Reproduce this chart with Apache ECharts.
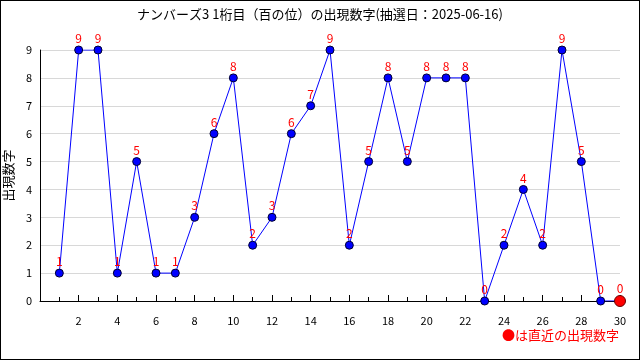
<!DOCTYPE html>
<html><head><meta charset="utf-8">
<script src="https://cdn.jsdelivr.net/npm/echarts@6/dist/echarts.min.js"></script>
<style>html,body{margin:0;padding:0;background:#fff}#c{width:638px;height:358px;border:1px solid #000}</style>
</head><body><div id="c"></div>
<script>
var draws = [1,2,3,4,5,6,7,8,9,10,11,12,13,14,15,16,17,18,19,20,21,22,23,24,25,26,27,28,29,30];
var digits = [1,9,9,1,5,1,1,3,6,8,2,3,6,7,9,2,5,8,5,8,8,8,0,2,4,2,9,5,0,0];
var titleText = 'ナンバーズ3 1桁目（百の位）の出現数字(抽選日：2025-06-16)';
var yName = '出現数字';
var noteText = '●は直近の出現数字';
var font = '"Noto Sans CJK JP", "DejaVu Sans", sans-serif';

var data = draws.map(function(d, i){
  var item = {value: [d, digits[i]]};
  if (i === draws.length - 1) {
    item.symbolSize = 11;
    item.itemStyle = {color: '#ff0000', borderColor: '#660000', borderWidth: 1};
  }
  return item;
});

var chart = echarts.init(document.getElementById('c'));
chart.setOption({
  animation: false,
  backgroundColor: '#fff',
  title: {text: titleText, left: 'center', top: 2,
    textStyle: {fontSize: 13, fontWeight: 'normal', color: '#000', fontFamily: font}},
  grid: {left: 39, right: 19, top: 49, bottom: 58, containLabel: false, outerBoundsMode: 'none'},
  xAxis: {type: 'value', min: 0, max: 30, interval: 2,
    axisLine: {lineStyle: {color: '#000'}},
    axisTick: {show: true, inside: true, length: 6, lineStyle: {color: '#000'}},
    minorTick: {show: true, splitNumber: 2, length: 4, lineStyle: {color: '#000'}},
    splitLine: {show: false},
    axisLabel: {color: '#000', fontSize: 11, margin: 14, fontFamily: font,
      formatter: function(v){ return v === 0 ? '' : String(v); }}
  },
  yAxis: {type: 'value', min: 0, max: 9, interval: 1,
    name: yName, nameLocation: 'middle', nameGap: 17, nameRotate: 90,
    nameTextStyle: {fontSize: 13, color: '#000', fontFamily: font},
    axisLine: {show: true, lineStyle: {color: '#000'}},
    axisTick: {show: false},
    splitLine: {lineStyle: {color: '#d8d8d8'}},
    axisLabel: {color: '#000', fontSize: 11, margin: 8, fontFamily: font}
  },
  series: [{
    type: 'line', data: data,
    symbol: 'circle', symbolSize: 8,
    lineStyle: {color: '#0000ff', width: 1},
    itemStyle: {color: '#0000ff', borderColor: '#000033', borderWidth: 1},
    label: {show: true, position: 'top', distance: 1, color: '#ff0000', fontSize: 12, fontFamily: font,
      formatter: function(p){ return p.value[1]; }}
  }],
  graphic: [{type: 'text', right: 20, top: 328,
    style: {text: noteText, fill: '#ff0000', fontSize: 13, fontFamily: font}}]
});
</script></body></html>
